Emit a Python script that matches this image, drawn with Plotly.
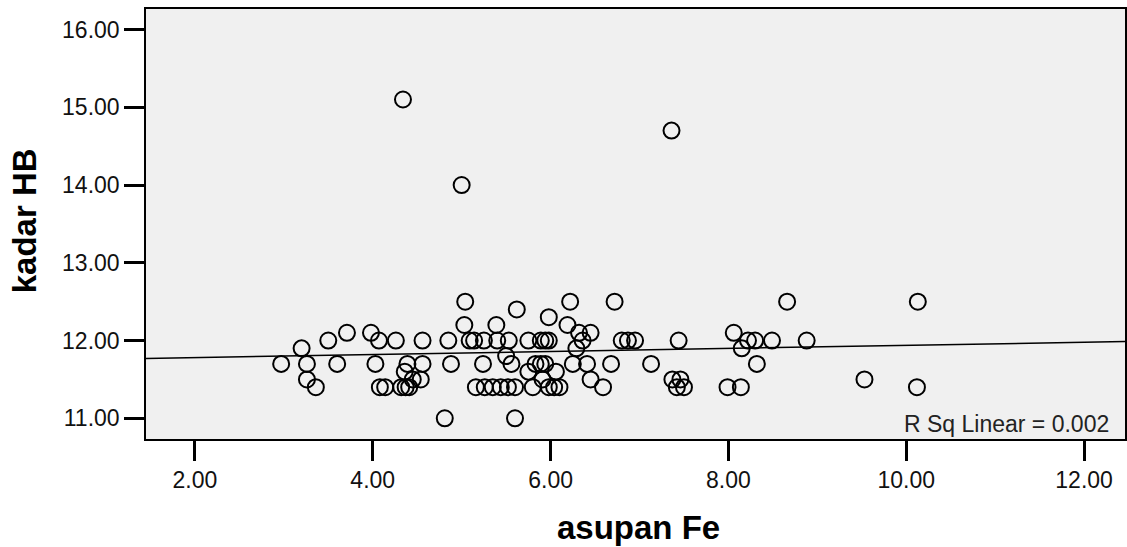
import numpy as np
import plotly.graph_objects as go

# ---- data ----
asupan_fe = [
    5.04, 6.22, 6.72, 8.66, 10.13,
    5.62,
    5.98,
    5.03, 5.39, 6.19,
    3.71, 3.98, 6.32, 6.45, 8.06,
    3.50, 4.07, 4.26, 4.56, 4.85, 5.09, 5.14, 5.25, 5.40, 5.53, 5.75, 5.89,
    5.94, 5.98, 6.36, 6.80, 6.87, 6.95, 7.44, 8.22, 8.30, 8.49, 8.88,
    3.20, 6.29, 8.15,
    5.50,
    2.97, 3.26, 3.60, 4.03, 4.39, 4.56, 4.88, 5.24, 5.56, 5.83, 5.89, 5.94,
    6.25, 6.41, 6.68, 7.13, 8.32,
    4.36, 5.75, 6.06,
    3.26, 4.45, 4.54, 5.91, 6.45, 7.37, 7.46, 9.53,
    3.36, 4.08, 4.14, 4.32, 4.37, 4.41, 5.16, 5.26, 5.35, 5.44, 5.52, 5.60,
    5.80, 5.98, 6.04, 6.10, 6.59, 7.42, 7.50, 7.99, 8.14, 10.12,
    4.81, 5.60,
    5.00, 7.36, 4.34,
]
kadar_hb = (
    [12.5] * 5 + [12.4] + [12.3] + [12.2] * 3 + [12.1] * 5 + [12.0] * 23
    + [11.9] * 3 + [11.8] + [11.7] * 17 + [11.6] * 3 + [11.5] * 8
    + [11.4] * 22 + [11.0] * 2 + [14.0, 14.7, 15.1]
)

x_range = [1.45, 12.46]
y_range = [10.734, 16.264]
x_title = "asupan Fe"
y_title = "kadar HB"
r2_label = "R Sq Linear = 0.002"

FONT = "Liberation Sans, Arial, sans-serif"

slope, intercept = np.polyfit(asupan_fe, kadar_hb, 1)
fit_x = np.array(x_range)
fit_y = intercept + slope * fit_x

fig = go.Figure()
fig.add_trace(go.Scatter(
    x=fit_x, y=fit_y, mode="lines",
    line=dict(color="black", width=1.5),
    hoverinfo="skip", showlegend=False,
))
fig.add_trace(go.Scatter(
    x=asupan_fe, y=kadar_hb, mode="markers",
    marker=dict(symbol="circle-open", size=16, color="black",
                line=dict(width=2, color="black")),
    showlegend=False,
))

axis_common = dict(
    showgrid=False, zeroline=False,
    showline=True, linecolor="black", linewidth=1.5, mirror=True,
    ticks="outside", ticklen=20, tickwidth=2.5, tickcolor="black",
    tickformat=".2f",
    tickfont=dict(family=FONT, size=23, color="#111"),
)

fig.update_layout(
    width=1127, height=547,
    margin=dict(l=146, r=0, t=9, b=108),
    paper_bgcolor="white",
    plot_bgcolor="#F0F0F0",
    xaxis=dict(range=x_range, tick0=2, dtick=2, **axis_common),
    yaxis=dict(range=y_range, tick0=11, dtick=1, **axis_common),
    annotations=[
        dict(text=r2_label, xref="paper", yref="paper",
             x=(1113 - 146) / 981, y=(439 - 424) / 430,
             xanchor="right", yanchor="middle", showarrow=False,
             font=dict(family=FONT, size=23, color="#222")),
        dict(text="<b>%s</b>" % x_title, xref="paper", yref="paper",
             x=(640 - 146) / 981, y=(439 - 527) / 430,
             xanchor="center", yanchor="middle", showarrow=False,
             font=dict(family=FONT, size=33, color="black")),
        dict(text="<b>%s</b>" % y_title, xref="paper", yref="paper",
             x=(25 - 146) / 981, y=(439 - 221) / 430,
             xanchor="center", yanchor="middle", showarrow=False,
             textangle=-90,
             font=dict(family=FONT, size=33, color="black")),
    ],
)

fig.write_html(
    "out.html",
    config={"displayModeBar": False},
    post_script="document.body.style.margin='0px';document.body.style.overflow='hidden';",
)
